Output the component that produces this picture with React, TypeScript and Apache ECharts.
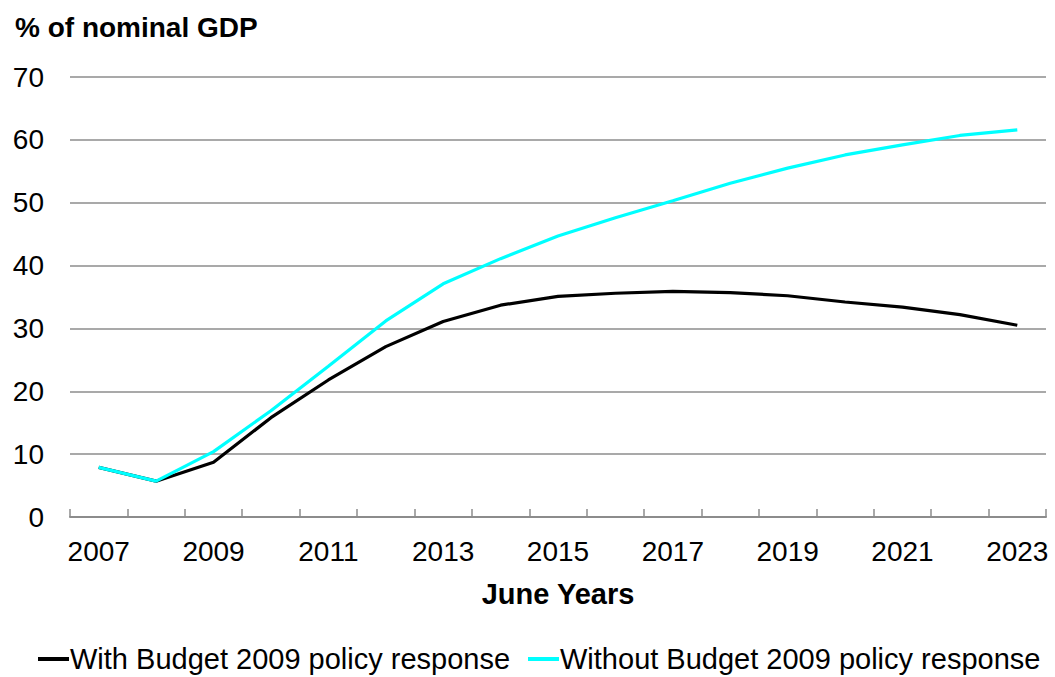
import React, { useEffect, useRef } from "react";
import * as echarts from "echarts";

const years = ["2007","2008","2009","2010","2011","2012","2013","2014","2015","2016","2017","2018","2019","2020","2021","2022","2023"];
const withBudget = [7.9, 5.7, 8.7, 15.8, 21.8, 27.1, 31.1, 33.7, 35.1, 35.6, 35.9, 35.7, 35.2, 34.2, 33.4, 32.2, 30.5];
const withoutBudget = [7.9, 5.7, 10.4, 16.9, 24.0, 31.2, 37.1, 41.1, 44.7, 47.6, 50.3, 53.1, 55.5, 57.6, 59.2, 60.7, 61.6];
const seriesNames = ["With Budget 2009 policy response", "Without Budget 2009 policy response"];
const yTitle = "% of nominal GDP";
const xTitle = "June Years";

const FONT = "'Liberation Sans', Arial, sans-serif";

export default function App() {
  const ref = useRef<HTMLDivElement>(null);
  useEffect(() => {
    if (!ref.current) return;
    const chart = echarts.init(ref.current, undefined, { renderer: "svg" });
    const legendBase = {
      top: 644,
      itemWidth: 31,
      itemHeight: 4,
      icon: "rect",
      padding: 0,
      textStyle: { fontFamily: FONT, fontSize: 29, lineHeight: 30, color: "#000", padding: [0, 0, 0, -4] },
    };
    chart.setOption({
      animation: false,
      textStyle: { fontFamily: FONT },
      title: {
        text: yTitle,
        left: 10,
        top: 8,
        textStyle: { fontFamily: FONT, fontSize: 28, fontWeight: "bold", color: "#000" },
      },
      legend: [
        { ...legendBase, left: 38, data: [seriesNames[0]] },
        { ...legendBase, left: 528, data: [seriesNames[1]] },
      ],
      grid: { left: 70, right: 9, top: 77, bottom: 160, containLabel: false },
      xAxis: {
        type: "category",
        data: years,
        boundaryGap: true,
        name: xTitle,
        nameLocation: "middle",
        nameGap: 62,
        nameTextStyle: { fontFamily: FONT, fontSize: 29, fontWeight: "bold", color: "#000" },
        axisLine: { show: true, lineStyle: { color: "#8c8c8c", width: 2 } },
        axisTick: { show: true, inside: true, length: 8, interval: 0, alignWithLabel: false, lineStyle: { color: "#8c8c8c", width: 1.5 } },
        axisLabel: { interval: 1, fontFamily: FONT, fontSize: 28, color: "#000", margin: 20 },
        splitLine: { show: false },
      },
      yAxis: {
        type: "value",
        min: 0,
        max: 70,
        interval: 10,
        axisLine: { show: false },
        axisTick: { show: false },
        axisLabel: { fontFamily: FONT, fontSize: 28, color: "#000", margin: 26 },
        splitLine: { show: true, lineStyle: { color: "#8c8c8c", width: 1.5 } },
      },
      series: [
        {
          name: seriesNames[0],
          type: "line",
          data: withBudget,
          symbol: "none",
          lineStyle: { color: "#000000", width: 3.2 },
          itemStyle: { color: "#000000" },
          z: 3,
        },
        {
          name: seriesNames[1],
          type: "line",
          data: withoutBudget,
          symbol: "none",
          lineStyle: { color: "#00FFFF", width: 3.2 },
          itemStyle: { color: "#00FFFF" },
          z: 4,
        },
      ],
    });
    return () => chart.dispose();
  }, []);
  return <div ref={ref} style={{ width: 1055, height: 677, position: "absolute", left: 0, top: 0 }} />;
}
